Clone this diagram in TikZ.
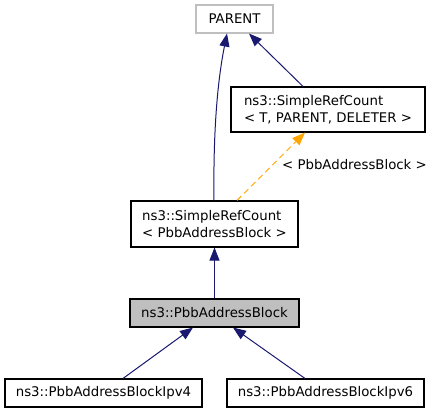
\documentclass[tikz,border=0pt]{standalone}
\usepackage{fontspec}
\setmainfont{DejaVu Sans}
\usetikzlibrary{arrows.meta}
\definecolor{navy}{HTML}{191970}
\definecolor{orng}{HTML}{FFA500}
\definecolor{gfill}{HTML}{BFBFBF}
\begin{document}
\begin{tikzpicture}[x=1pt,y=1pt,
  box/.style={draw=black,line width=1.1pt,fill=white,inner sep=0pt,align=left,
    font=\fontsize{13.3}{17}\selectfont},
  edge/.style={draw=navy,line width=1pt,-{Triangle[length=13pt,width=10pt]}},
  tedge/.style={draw=orng,line width=1pt,dash pattern=on 6pt off 4pt,
    -{Triangle[length=13pt,width=10pt,fill=orng]}}]
\useasboundingbox (0,0) rectangle (432,413);
\node[box,draw=gfill,minimum width=77pt,minimum height=28pt] (parent) at (234.5,394) {PARENT};
\node[box,minimum width=194pt,minimum height=45pt] (srct) at (328,303.5) {ns3::SimpleRefCount\\< T, PARENT, DELETER >};
\node[box,minimum width=167pt,minimum height=46pt] (srcp) at (214.5,189) {ns3::SimpleRefCount\\< PbbAddressBlock >};
\node[box,fill=gfill,minimum width=169pt,minimum height=28pt] (pbb) at (214.5,100) {ns3::PbbAddressBlock};
\node[box,minimum width=197pt,minimum height=28pt] (ipv4) at (103.5,20) {ns3::PbbAddressBlockIpv4};
\node[box,minimum width=197pt,minimum height=28pt] (ipv6) at (325.5,20) {ns3::PbbAddressBlockIpv6};
\node[anchor=west,inner sep=0pt,font=\fontsize{13.3}{17}\selectfont] (lbl) at (282,248) {< PbbAddressBlock >};
\draw[edge] ([xshift=-0.5pt]srcp.north) .. controls +(-1,80) and +(-8,-40) .. ([xshift=-7.5pt]parent.south);
\draw[edge] ([xshift=-25pt]srct.north) -- ([xshift=14.5pt]parent.south);
\draw[tedge] ([xshift=22.5pt]srcp.north) -- ([xshift=-23pt]srct.south);
\draw[edge] (pbb.north) -- (srcp.south);
\draw[edge] ([xshift=19.5pt]ipv4.north) -- ([xshift=-21.5pt]pbb.south);
\draw[edge] ([xshift=-20.5pt]ipv6.north) -- ([xshift=18.5pt]pbb.south);
\end{tikzpicture}
\end{document}
